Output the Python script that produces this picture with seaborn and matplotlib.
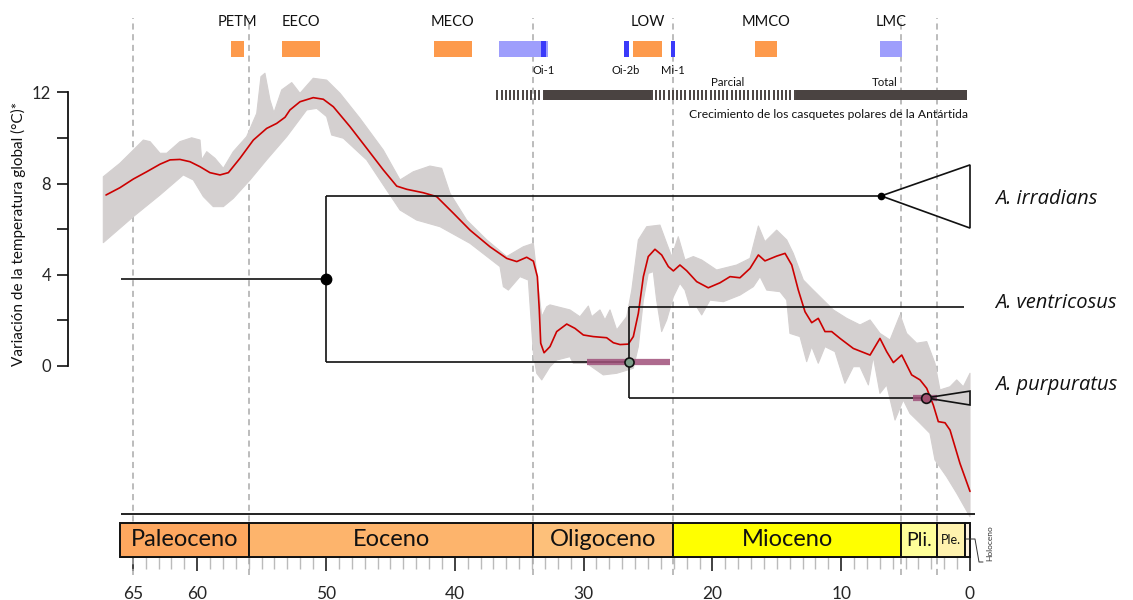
import numpy as np
import pandas as pd
import matplotlib
matplotlib.use("Agg")
import matplotlib.pyplot as plt
import seaborn as sns
from matplotlib.patches import Rectangle, Polygon

# ---------------- data ----------------
temp_age = [67.08, 66.0, 64.96, 63.92, 62.89, 62.11, 61.34, 60.56, 59.78, 59.01, 58.23, 57.58,
            56.68, 55.64, 54.61, 53.83, 53.18, 52.8, 52.02, 50.99, 50.21, 49.43, 48.14, 46.84,
            45.55, 44.51, 43.73, 42.45, 41.41, 40.11, 38.82, 37.27, 35.97, 35.19, 34.42, 33.9,
            33.59, 33.44, 33.33, 33.07, 32.61, 32.09, 31.31, 30.67, 30.02, 29.25, 28.21, 27.69,
            27.17, 26.53, 26.14, 25.75, 25.36, 24.98, 24.46, 23.94, 23.42, 23.03, 22.52, 22.0,
            21.22, 20.32, 19.41, 18.63, 17.86, 17.08, 16.43, 15.92, 15.01, 14.36, 13.84, 13.33,
            12.81, 12.29, 11.78, 11.26, 10.74, 10.09, 9.06, 7.76, 6.99, 6.47, 5.95, 5.3,
            4.53, 3.88, 3.36, 2.85, 2.46, 1.94, 1.55, 0.78, 0.0]
temp_val = [7.5, 7.82, 8.2, 8.52, 8.85, 9.04, 9.06, 8.96, 8.74, 8.48, 8.38, 8.48,
            9.11, 9.91, 10.42, 10.64, 10.91, 11.23, 11.59, 11.77, 11.7, 11.37, 10.5, 9.55,
            8.6, 7.89, 7.75, 7.6, 7.43, 6.7, 5.96, 5.23, 4.72, 4.58, 4.77, 4.6,
            3.92, 2.46, 1.0, 0.58, 0.85, 1.51, 1.84, 1.65, 1.36, 1.29, 1.24, 1.02,
            0.94, 0.96, 1.29, 2.31, 3.92, 4.8, 5.12, 4.87, 4.36, 4.17, 4.43, 4.18,
            3.7, 3.43, 3.65, 3.92, 3.87, 4.28, 4.87, 4.61, 4.82, 4.94, 4.43, 3.33,
            2.38, 1.9, 2.09, 1.51, 1.51, 1.21, 0.77, 0.48, 1.21, 0.63, 0.15, 0.48,
            -0.39, -0.61, -0.98, -1.71, -2.44, -2.49, -2.81, -4.27, -5.5]

band_up_age = [67.29, 66.0, 64.96, 64.18, 63.66, 62.89, 62.37, 61.34, 60.43, 59.78, 59.65, 59.26,
               58.62, 57.97, 57.2, 56.16, 55.38, 55.05, 54.74, 54.35, 54.04, 53.44, 52.66, 52.02,
               50.99, 49.95, 48.91, 47.36, 45.55, 44.25, 43.22, 41.93, 41.02, 40.37, 39.08, 37.52,
               35.97, 34.68, 33.9, 33.64, 33.25, 32.86, 32.61, 31.06, 30.28, 29.63, 29.37, 28.73,
               28.34, 27.95, 27.43, 26.65, 26.26, 25.75, 25.1, 24.07, 23.55, 23.16, 22.65, 22.13,
               21.48, 20.83, 19.67, 18.11, 17.08, 16.43, 15.92, 15.01, 14.23, 13.72, 12.94, 12.17,
               11.65, 10.61, 9.57, 8.54, 7.76, 6.99, 6.21, 5.43, 4.92, 4.14, 3.36, 2.72,
               2.33, 1.55, 1.03, 0.52, 0.0]
band_up_val = [8.3, 8.89, 9.47, 9.91, 9.84, 9.33, 9.33, 9.84, 10.01, 9.91, 9.04, 9.4,
               9.11, 8.67, 9.4, 10.06, 11.08, 12.69, 12.84, 11.67, 11.11, 12.11, 12.43, 11.96,
               12.62, 12.54, 11.96, 10.86, 9.47, 8.16, 8.52, 8.77, 8.67, 7.57, 6.4, 5.53,
               4.8, 5.23, 5.38, 4.06, 2.16, 2.6, 2.68, 2.46, 2.16, 2.63, 2.16, 2.46,
               2.02, 2.46, 1.58, 2.16, 3.33, 5.53, 6.11, 6.18, 5.38, 4.8, 5.67, 4.65,
               4.8, 4.65, 4.21, 4.43, 4.72, 6.14, 5.45, 5.96, 5.53, 4.94, 3.77, 3.33,
               3.04, 2.46, 2.09, 1.8, 2.02, 1.43, 1.14, 2.24, 1.43, 1.0, 1.07, 0.12,
               -1.05, -0.91, -0.61, -0.91, -0.32]

band_lo_age = [67.29, 64.96, 62.89, 61.08, 60.3, 59.52, 58.75, 57.97, 57.2, 55.9, 54.61, 53.05,
               51.5, 50.72, 49.95, 49.56, 48.65, 46.84, 45.29, 44.25, 42.96, 41.15, 38.82, 36.49,
               36.23, 35.84, 34.94, 34.29, 33.9, 33.64, 33.25, 32.61, 32.09, 31.06, 30.8, 29.76,
               28.47, 27.43, 26.14, 25.75, 25.36, 24.98, 24.59, 24.33, 23.94, 23.55, 23.03, 22.52,
               22.13, 21.74, 21.22, 20.83, 20.19, 19.15, 17.86, 16.82, 16.3, 15.78, 14.75, 14.23,
               13.98, 13.2, 12.68, 12.29, 11.78, 11.26, 10.48, 9.71, 9.06, 8.54, 7.89, 7.51,
               6.99, 6.47, 5.82, 5.18, 4.66, 3.88, 3.11, 2.72, 1.81, 1.03, 0.0]
band_lo_val = [5.41, 6.55, 7.5, 8.38, 8.16, 7.43, 6.99, 6.99, 7.35, 8.16, 9.04, 10.06,
               11.23, 11.3, 10.94, 10.13, 9.99, 9.04, 7.72, 6.84, 6.4, 6.11, 5.38, 4.36,
               3.48, 3.33, 3.92, 3.77, 0.56, -0.32, -0.61, -0.03, 0.26, 0.41, 0.12, 0.12,
               -0.39, -0.32, -0.1, 0.85, 2.89, 4.06, 4.14, 2.89, 1.51, 2.02, 3.04, 3.63,
               3.33, 2.6, 2.6, 2.24, 2.89, 2.82, 3.11, 3.48, 3.92, 3.33, 3.26, 2.89,
               1.43, 1.29, 0.19, 0.85, 0.12, 0.85, 0.63, -0.76, -0.03, -0.03, -0.83, 0.41,
               -1.2, -0.83, -2.37, -1.49, -2.08, -2.51, -2.95, -4.12, -4.86, -5.58, -6.61]

epoch_names = ["Paleoceno", "Eoceno", "Oligoceno", "Mioceno", "Pli.", "Ple.", ""]
epoch_start = [66.0, 56.0, 33.9, 23.03, 5.33, 2.58, 0.4]
epoch_end = [56.0, 33.9, 23.03, 5.33, 2.58, 0.4, 0.0]
epoch_colors = ["#fda75f", "#fdb46c", "#fdc07a", "#ffff00", "#ffff99", "#fff2ae", "#fef2e0"]
epoch_fs = [17, 17, 17, 17, 14, 9, 1]
boundary_ages = [65.0, 56.0, 33.9, 23.03, 5.33, 2.58]

x_major = [65, 60, 50, 40, 30, 20, 10, 0]
y_major = [0, 4, 8, 12]

warm_names = ["PETM", "EECO", "MECO", "LOW", "MMCO"]
warm_start = [57.4, 53.4, 41.6, 26.2, 16.7]
warm_end = [56.4, 50.5, 38.7, 23.9, 15.0]
cool_names = ["", "LMC"]
cool_start = [36.6, 7.0]
cool_end = [32.8, 5.3]
glac_names = ["Oi-1", "Oi-2b", "Mi-1"]
glac_start = [33.3, 26.9, 23.2]
glac_end = [32.9, 26.5, 22.9]

ice_start = [36.7, 33.1, 24.7, 13.5]
ice_end = [33.1, 24.8, 13.5, 0.2]
ice_full = [False, True, False, True]
ice_text = ["Parcial", "Total"]
ice_text_age = [18.8, 6.6]

# phylogeny (ages in Ma, y in temperature units of the plot)
stem_age, root_age, root_y = 65.9, 50.0, 3.82
irr_y, irr_crown = 7.46, 6.9
irr_tri = [8.82, 6.05]
split_age, split_y = 26.5, 0.18
split_hpd = [29.7, 23.3]
ven_y, ven_end = 2.59, 0.5
pur_y, pur_crown = -1.40, 3.42
pur_hpd = [4.43, 2.56]
pur_tri = [-1.10, -1.71]
species = ["A. irradians", "A. ventricosus", "A. purpuratus"]
species_y = [7.33, 2.76, -0.83]

# ---------------- layout helpers (pixel -> data) ----------------
PX, X0, PY, Y0 = 12.88, 970.0, 22.8, 366.0
def xd(px):
    return (X0 - px) / PX
def yd(py):
    return (Y0 - py) / PY

sns.set_theme(style="white")
plt.rcParams["font.family"] = ["Lato", "DejaVu Sans"]

fig = plt.figure(figsize=(11.33, 6), dpi=100)
ax = fig.add_axes([0, 0, 1, 1])
ax.set_facecolor("white")
ax.set_xlim(xd(0), xd(1133))
ax.set_ylim(yd(600), yd(0))

# dashed boundaries
ax.vlines(boundary_ages, yd(575), yd(18), colors="#aaaaaa", linestyles=(0, (4, 3)), lw=1.1, zorder=1)

# band and curve
band_x = list(band_up_age) + list(band_lo_age[::-1])
band_y = list(band_up_val) + list(band_lo_val[::-1])
ax.add_patch(Polygon(np.column_stack([band_x, band_y]), closed=True, facecolor="#d4d0d0",
                     edgecolor="#d4d0d0", lw=0.8, joinstyle="round", zorder=2))
df = pd.DataFrame({"age": temp_age, "temp": temp_val})
sns.lineplot(data=df, x="age", y="temp", ax=ax, color="#cc0000", lw=1.2, sort=False,
             estimator=None, zorder=3)
for ln in ax.lines:
    ln.set_solid_joinstyle("round")

# phylogeny
lc = "#111111"
tl = 1.2
ax.hlines(root_y, stem_age, root_age, color=lc, lw=tl, zorder=4)
ax.vlines(root_age, split_y, irr_y, color=lc, lw=tl, zorder=4)
ax.hlines(irr_y, root_age, irr_crown, color=lc, lw=tl, zorder=4)
ax.add_patch(Polygon([[irr_crown, irr_y], [0, irr_tri[0]], [0, irr_tri[1]]], closed=True,
                     facecolor="none", edgecolor=lc, lw=tl, zorder=4))
ax.hlines(split_y, root_age, split_age, color=lc, lw=tl, zorder=4)
ax.hlines(split_y, split_hpd[0], split_hpd[1], color="#a0507a", lw=4.5, alpha=0.85, zorder=4)
ax.vlines(split_age, pur_y, ven_y, color=lc, lw=tl, zorder=4)
ax.hlines(ven_y, split_age, ven_end, color=lc, lw=tl, zorder=4)
ax.hlines(pur_y, split_age, pur_crown, color=lc, lw=tl, zorder=4)
ax.hlines(pur_y, pur_hpd[0], pur_hpd[1], color="#a0507a", lw=4.5, alpha=0.85, zorder=4)
ax.add_patch(Polygon([[pur_crown, pur_y], [0, pur_tri[0]], [0, pur_tri[1]]], closed=True,
                     facecolor="none", edgecolor=lc, lw=tl, zorder=4))
ax.plot([root_age], [root_y], "o", ms=7.5, color="black", zorder=5)
ax.plot([irr_crown], [irr_y], "o", ms=4.5, color="black", zorder=5)
ax.plot([split_age], [split_y], "o", ms=6.5, mfc="#7d9e8a", mec="#111111", mew=1.2, zorder=5)
ax.plot([pur_crown], [pur_y], "o", ms=7, mfc="#a2506f", mec="#111111", mew=1.2, zorder=5)
for name, yy in zip(species, species_y):
    ax.text(xd(995), yy, name, style="italic", fontsize=14.5, ha="left", va="center", color="#111111",
            family=["Open Sans", "DejaVu Sans"])

# events row
ev_lo, ev_hi = yd(57), yd(41)
for n, s, e in zip(warm_names, warm_start, warm_end):
    ax.add_patch(Rectangle((e, ev_lo), s - e, ev_hi - ev_lo, facecolor="#fd9a4c", edgecolor="none", zorder=3))
    ax.text((s + e) / 2, yd(22), n, ha="center", va="center", fontsize=10.5, color="#111111")
for n, s, e in zip(cool_names, cool_start, cool_end):
    ax.add_patch(Rectangle((e, ev_lo), s - e, ev_hi - ev_lo, facecolor="#9e9efc", edgecolor="none", zorder=3))
    if n:
        ax.text((s + e) / 2, yd(22), n, ha="center", va="center", fontsize=10.5, color="#111111")
for n, s, e in zip(glac_names, glac_start, glac_end):
    ax.add_patch(Rectangle((e, ev_lo), s - e, ev_hi - ev_lo, facecolor="#3a3afa", edgecolor="none", zorder=4))
    ax.text((s + e) / 2, yd(70), n, ha="center", va="center", fontsize=8, color="#111111")

# ice sheet bar
ib_lo, ib_hi = yd(100), yd(90)
for s, e, full in zip(ice_start, ice_end, ice_full):
    if full:
        ax.add_patch(Rectangle((e, ib_lo), s - e, ib_hi - ib_lo, facecolor="#4a4341", edgecolor="none", zorder=3))
    else:
        ax.vlines(np.arange(s, e, -4.2 / PX), ib_lo, ib_hi, color="#4a4341", lw=1.4, zorder=3)
for t, a in zip(ice_text, ice_text_age):
    ax.text(a, yd(82), t, ha="center", va="center", fontsize=8.3, color="#111111")
ax.text(xd(968), yd(115), "Crecimiento de los casquetes polares de la Antártida", ha="right",
        va="center", fontsize=8.7, color="#111111")

# horizontal separator
ax.hlines(yd(514), xd(121), xd(975), color="#222222", lw=1.4, zorder=4)

# epoch bar
eb_lo, eb_hi = yd(557), yd(523)
for n, s, e, c, fs in zip(epoch_names, epoch_start, epoch_end, epoch_colors, epoch_fs):
    ax.add_patch(Rectangle((e, eb_lo), s - e, eb_hi - eb_lo, facecolor=c, edgecolor="#111111", lw=1.4, zorder=5))
    if n:
        ax.text((s + e) / 2, (eb_lo + eb_hi) / 2, n, ha="center", va="center", fontsize=fs,
                color="#111111", zorder=6)
# Holocene leader
ax.plot([xd(966), xd(975), xd(979), xd(983)], [yd(539), yd(539), yd(562), yd(562)], color="#333333", lw=0.7, zorder=6)
ax.text(xd(990), yd(543), "Holoceno", rotation=90, fontsize=6, ha="center", va="center", color="#333333")

# axes / spines
for sp in ["top", "right"]:
    ax.spines[sp].set_visible(False)
ax.spines["left"].set_position(("data", xd(68)))
ax.spines["left"].set_bounds(0, 12)
ax.spines["left"].set_color("#111111")
ax.spines["left"].set_linewidth(1.3)
ax.spines["bottom"].set_position(("data", eb_lo))
ax.spines["bottom"].set_bounds(xd(121), 0)
ax.spines["bottom"].set_color("#111111")
ax.spines["bottom"].set_linewidth(1.4)

ax.set_yticks(np.arange(0, 13, 2))
ax.set_yticklabels([str(v) if v in y_major else "" for v in range(0, 13, 2)])
ax.tick_params(axis="y", direction="out", length=8, width=1.2, color="#111111", labelsize=12, pad=4,
               left=True, labelleft=True)
ax.set_xticks(x_major)
ax.set_xticklabels([str(v) for v in x_major])
ax.set_xticks(np.arange(0, 66, 1), minor=True)
ax.tick_params(axis="x", which="major", direction="out", length=10, width=1.3, color="#333333",
               labelsize=12.5, pad=11, bottom=True)
ax.tick_params(axis="x", which="minor", direction="out", length=8.5, width=1, color="#bbbbbb", bottom=True)
ax.set_xlabel("")
ax.set_ylabel("")
ax.text(xd(18), yd(234), "Variación de la temperatura global (°C)*", rotation=90, ha="center",
        va="center", fontsize=11, color="#111111")
ax.grid(False)

fig.savefig("out.png", dpi=100, facecolor="white")
